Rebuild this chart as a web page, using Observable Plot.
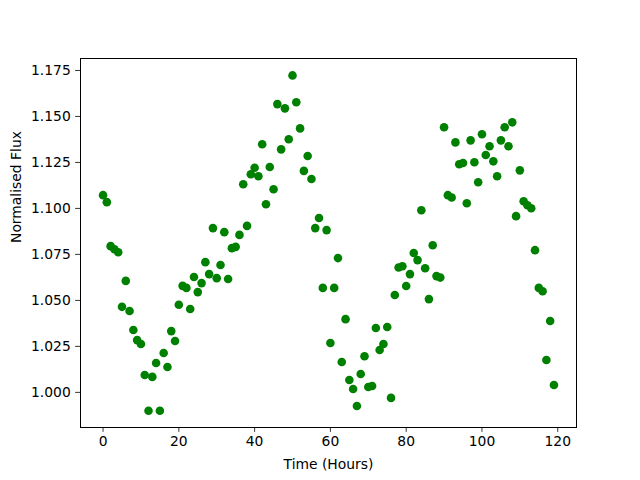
<!DOCTYPE html>
<html><head><meta charset="utf-8">
<script src="https://cdn.jsdelivr.net/npm/d3@7"></script>
<script src="https://cdn.jsdelivr.net/npm/@observablehq/plot@0.6"></script>
<style>body{margin:0;background:#fff} svg{display:block}</style>
</head><body><div id="chart"></div>
<script>
const hours = [0,1,2,3,4,5,6,7,8,9,10,11,12,13,14,15,16,17,18,19,20,21,22,23,24,25,26,27,28,29,30,31,32,33,34,35,36,37,38,39,40,41,42,43,44,45,46,47,48,49,50,51,52,53,54,55,56,57,58,59,60,61,62,63,64,65,66,67,68,69,70,71,72,73,74,75,76,77,78,79,80,81,82,83,84,85,86,87,88,89,90,91,92,93,94,95,96,97,98,99,100,101,102,103,104,105,106,107,108,109,110,111,112,113,114,115,116,117,118,119];
const flux = [1.1072,1.1034,1.0795,1.0778,1.0762,1.0465,1.0606,1.0442,1.0339,1.0284,
1.0263,1.0094,0.9900,1.0084,1.0160,0.9900,1.0214,1.0138,1.0333,1.0279,
1.0476,1.0579,1.0568,1.0453,1.0627,1.0545,1.0594,1.0708,1.0643,1.0893,
1.0621,1.0692,1.0871,1.0616,1.0784,1.0791,1.0856,1.1131,1.0905,1.1186,
1.1221,1.1175,1.1349,1.1023,1.1225,1.1104,1.1567,1.1321,1.1544,1.1376,
1.1723,1.1577,1.1435,1.1204,1.1285,1.1160,1.0893,1.0948,1.0568,1.0882,
1.0268,1.0568,1.0730,1.0165,1.0398,1.0067,1.0018,0.9926,1.0100,1.0196,
1.0029,1.0035,1.0350,1.0230,1.0263,1.0355,0.9970,1.0529,1.0679,1.0686,
1.0578,1.0643,1.0758,1.0719,1.0990,1.0675,1.0507,1.0800,1.0632,1.0624,
1.1441,1.1072,1.1059,1.1359,1.1240,1.1247,1.1028,1.1370,1.1251,1.1142,
1.1403,1.1290,1.1338,1.1256,1.1175,1.1370,1.1441,1.1338,1.1468,1.0958,
1.1207,1.1039,1.1017,1.1001,1.0773,1.0568,1.0550,1.0176,1.0388,1.0040];
const xTicks = [0,20,40,60,80,100,120];
const yTicks = [1.000,1.025,1.050,1.075,1.100,1.125,1.150,1.175];
const xLabel = "Time (Hours)";
const yLabel = "Normalised Flux";

const data = hours.map((h,i)=>({hour:h, flux:flux[i]}));
const fs = 13.89;
const chart = Plot.plot({
  width:640, height:480,
  marginLeft:80, marginRight:64, marginTop:58, marginBottom:53,
  style:{fontFamily:"'DejaVu Sans', sans-serif", fontSize:fs+"px", background:"#fff", color:"#000"},
  x:{domain:[-5.95,124.95]},
  y:{domain:[0.9809,1.1815]},
  marks:[
    Plot.axisX({ticks:xTicks, tickFormat:d=>String(d), tickSize:4.86, tickPadding:4.0, label:null, strokeWidth:0.8, fontSize:fs}),
    Plot.axisY({ticks:yTicks, tickFormat:d3.format(".3f"), tickSize:4.86, tickPadding:4.86, label:null, strokeWidth:0.8, fontSize:fs}),
    Plot.dot(data,{x:"hour",y:"flux",r:4.3,fill:"#008000",stroke:"none"}),
    Plot.frame({stroke:"#000", strokeWidth:1}),
    Plot.text([xLabel], {text:d=>d, frameAnchor:"bottom", dy:37, lineAnchor:"middle", fontSize:fs, fill:"#000"}),
    Plot.text([yLabel], {text:d=>d, frameAnchor:"left", dx:-64, rotate:-90, lineAnchor:"middle", fontSize:fs, fill:"#000"})
  ]
});
document.getElementById("chart").appendChild(chart);
</script>
</body></html>
